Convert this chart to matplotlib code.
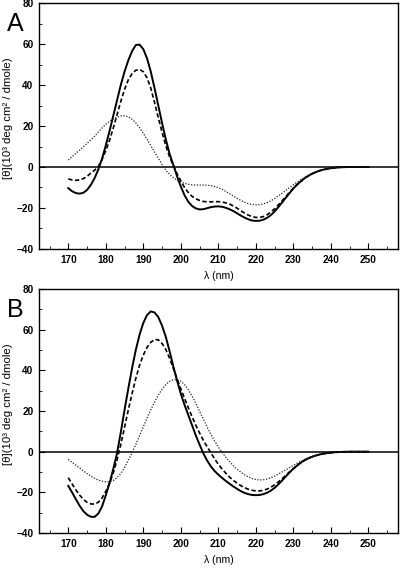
import matplotlib
matplotlib.use("Agg")
import matplotlib.pyplot as plt
from matplotlib.ticker import MultipleLocator

plt.rcParams['font.family'] = ['Liberation Sans', 'DejaVu Sans']

# wavelength grid (nm) shared by all curves
wavelength = list(range(170, 246)) + [250]

# ---------------- Panel A ----------------
A_solid = [
    -10.3, -11.8, -12.7, -13.0, -12.6, -11.2, -8.8, -5.5, -1.3, 4.0,       # 170-179
    10.5, 17.5, 25.0, 32.5, 40.0, 46.5, 52.0, 56.5, 59.5, 59.7,            # 180-189
    57.5, 53.0, 46.5, 38.5, 30.0, 21.5, 13.5, 6.5, 1.0, -4.5,              # 190-199
    -9.5, -13.8, -17.0, -19.0, -20.2, -20.7, -20.6, -20.1, -19.6, -19.3,   # 200-209
    -19.2, -19.4, -19.9, -20.6, -21.5, -22.6, -23.7, -24.7, -25.5, -26.1,  # 210-219
    -26.3, -26.2, -25.7, -24.8, -23.5, -21.7, -19.6, -17.3, -15.0, -12.7,  # 220-229
    -10.5, -8.6, -7.0, -5.5, -4.3, -3.3, -2.5, -1.8, -1.3, -0.9,           # 230-239
    -0.6, -0.4, -0.2, -0.1, -0.05, 0.0,                                    # 240-245
    0.0]                                                                   # 250

A_dash = [
    -5.8, -6.3, -6.5, -6.3, -5.7, -4.6, -3.0, -1.6, 0.3, 3.6,
    8.0, 13.0, 19.0, 25.5, 32.0, 37.8, 42.5, 45.5, 47.2, 47.6,
    46.5, 43.5, 38.5, 31.5, 24.0, 17.0, 10.5, 5.0, 0.8, -3.2,
    -6.8, -10.0, -12.5, -14.3, -15.5, -16.3, -16.8, -17.0, -17.0, -16.9,
    -16.9, -17.1, -17.5, -18.1, -19.0, -20.1, -21.3, -22.5, -23.5, -24.2,
    -24.6, -24.6, -24.2, -23.3, -22.0, -20.4, -18.5, -16.5, -14.4, -12.3,
    -10.3, -8.5, -7.0, -5.5, -4.3, -3.3, -2.5, -1.8, -1.3, -0.9,
    -0.6, -0.4, -0.2, -0.1, -0.05, 0.0,
    0.0]

A_dot = [
    3.4, 5.0, 6.6, 8.2, 9.8, 11.5, 13.2, 15.0, 17.0, 19.0,
    20.8, 22.3, 23.5, 24.4, 24.9, 25.0, 24.5, 23.3, 21.5, 19.2,
    16.5, 13.5, 10.5, 7.3, 4.3, 1.2, -1.5, -3.6, -5.2, -6.4,
    -7.3, -8.0, -8.4, -8.7, -8.8, -8.8, -8.8, -8.9, -9.1, -9.5,
    -10.1, -10.9, -11.9, -13.0, -14.2, -15.3, -16.3, -17.2, -17.9, -18.3,
    -18.5, -18.4, -18.0, -17.4, -16.5, -15.4, -14.1, -12.8, -11.4, -10.0,
    -8.7, -7.4, -6.2, -5.1, -4.1, -3.2, -2.4, -1.8, -1.3, -0.9,
    -0.6, -0.4, -0.2, -0.1, -0.05, 0.0,
    0.0]

# ---------------- Panel B ----------------
B_solid = [
    -16.8, -20.0, -23.3, -26.5, -29.2, -31.0, -32.0, -32.1, -30.5, -27.0,
    -21.5, -15.5, -8.5, -0.8, 9.5, 20.5, 31.0, 41.0, 50.0, 57.5,
    63.3, 67.2, 69.0, 68.5, 66.2, 62.0, 56.5, 49.5, 42.0, 35.0,
    28.5, 23.0, 18.0, 13.0, 8.0, 3.5, -0.8, -4.3, -7.2, -9.5,
    -11.3, -12.9, -14.4, -15.8, -17.1, -18.3, -19.4, -20.3, -20.9, -21.3,
    -21.4, -21.3, -20.9, -20.2, -19.2, -17.8, -16.1, -14.2, -12.2, -10.2,
    -8.4, -6.8, -5.4, -4.2, -3.3, -2.5, -1.9, -1.4, -1.0, -0.7,
    -0.5, -0.3, -0.2, -0.1, -0.05, 0.0,
    0.0]

B_dash = [
    -12.8, -15.8, -18.7, -21.3, -23.4, -24.9, -25.7, -25.8, -24.9, -22.8,
    -19.5, -15.5, -10.5, -4.0, 3.5, 12.0, 20.5, 28.5, 36.0, 42.5,
    47.5, 51.3, 53.8, 55.2, 55.0, 53.2, 50.3, 46.0, 41.0, 35.8,
    31.0, 26.2, 21.6, 17.2, 13.0, 9.2, 5.6, 2.5, -0.5, -3.5,
    -6.2, -8.5, -10.6, -12.5, -14.1, -15.5, -16.7, -17.7, -18.5, -19.0,
    -19.3, -19.3, -19.0, -18.4, -17.5, -16.3, -14.9, -13.3, -11.6, -9.9,
    -8.3, -6.8, -5.4, -4.2, -3.3, -2.5, -1.9, -1.4, -1.0, -0.7,
    -0.5, -0.3, -0.2, -0.1, -0.05, 0.0,
    0.0]

B_dot = [
    -3.8, -5.2, -6.6, -8.0, -9.4, -10.8, -12.0, -13.1, -14.0, -14.5,
    -14.8, -14.8, -14.2, -12.8, -10.7, -7.8, -4.2, -0.5, 3.5, 7.8,
    12.2, 16.5, 20.6, 24.4, 27.8, 30.7, 33.0, 34.6, 35.4, 35.5,
    34.7, 33.0, 30.5, 27.4, 23.8, 19.9, 16.0, 12.2, 8.6, 5.3,
    2.3, -0.3, -2.7, -4.9, -6.9, -8.6, -10.1, -11.4, -12.4, -13.2,
    -13.7, -13.9, -13.8, -13.4, -12.8, -12.0, -11.0, -10.0, -8.9, -7.8,
    -6.7, -5.7, -4.7, -3.8, -3.0, -2.3, -1.8, -1.3, -0.9, -0.6,
    -0.4, -0.25, -0.15, -0.08, -0.03, 0.0,
    0.0]

x_ticks = [170, 180, 190, 200, 210, 220, 230, 240, 250]
y_ticks = [-40, -20, 0, 20, 40, 60, 80]
panel_letters = ["A", "B"]
x_label = "λ (nm)"
y_label = "[θ](10³ deg cm² / dmole)"

panels = [
    (panel_letters[0], [0.0975, 0.5624, 0.8975, 0.4323], A_solid, A_dash, A_dot),
    (panel_letters[1], [0.0975, 0.0633, 0.8975, 0.4287], B_solid, B_dash, B_dot),
]

fig = plt.figure(figsize=(4.0, 5.69), dpi=100)

for letter, rect, sol, das, dot in panels:
    ax = fig.add_axes(rect)
    ax.axhline(0, color='black', lw=1.1, zorder=1)
    ax.plot(wavelength, sol, color='black', lw=1.4, ls='-', zorder=3)
    ax.plot(wavelength, das, color='black', lw=1.2, ls=(0, (2.6, 1.5)), zorder=3)
    ax.plot(wavelength, dot, color='#222222', lw=0.9, ls=(0, (1.0, 1.3)), zorder=3)
    ax.set_xlim(162.2, 257.9)
    ax.set_ylim(-40, 80)
    ax.set_xticks(x_ticks)
    ax.set_yticks(y_ticks)
    ax.xaxis.set_minor_locator(MultipleLocator(5))
    ax.yaxis.set_minor_locator(MultipleLocator(10))
    ax.tick_params(which='major', direction='in', length=4, width=0.8,
                   labelsize=7.2, pad=4)
    ax.tick_params(which='minor', direction='in', length=2, width=0.6)
    for lab in ax.get_xticklabels() + ax.get_yticklabels():
        lab.set_fontweight('bold')
    for sp in ax.spines.values():
        sp.set_linewidth(1.0)
    ax.set_xlabel(x_label, fontsize=7.6, labelpad=5)
    ax.set_ylabel(y_label, fontsize=8.2)
    ax.yaxis.set_label_coords(-0.072, 0.53)
    ax.text(-0.09, 0.965, letter, transform=ax.transAxes, fontsize=18,
            ha='left', va='top')

fig.savefig("out.png", dpi=100)
